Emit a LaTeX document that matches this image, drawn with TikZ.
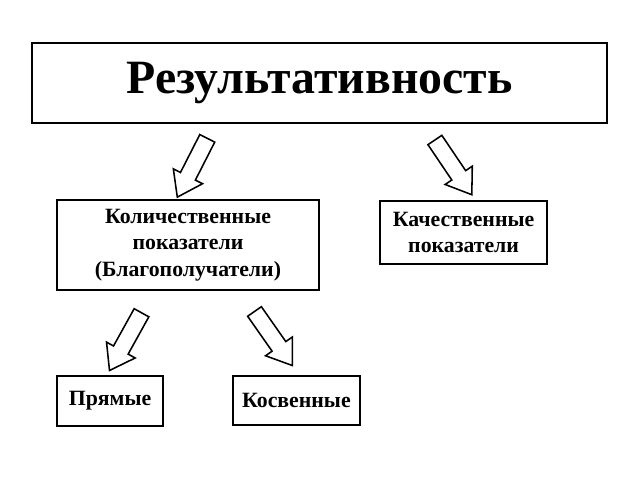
\documentclass[tikz,border=0pt]{standalone}
\usepackage{fontspec}
\setmainfont{Liberation Serif}
\usetikzlibrary{shapes.arrows}
\tikzset{
  box/.style={draw, line width=1.1pt, font=\bfseries\fontsize{15.5}{19}\selectfont, align=center, inner sep=0pt},
  barrow/.style={draw, line width=1.1pt, single arrow, inner sep=0.19cm, minimum width=0.8cm,
    single arrow head extend=0.2cm, single arrow tip angle=70, minimum height=1.65cm}
}
\begin{document}
\begin{tikzpicture}
  \useasboundingbox (0,0) rectangle (16,12);
  % boxes
  \node[box, minimum width=14.375cm, minimum height=2cm, font=\bfseries\fontsize{34}{38}\selectfont] (res) at (7.99,9.925) {Результативность};
  \node[box, minimum width=6.55cm, minimum height=2.25cm] (kol) at (4.7,5.875) {Количественные\\показатели\\(Благополучатели)};
  \node[box, minimum width=4.175cm, minimum height=1.575cm] (kach) at (11.59,6.19) {Качественные\\показатели};
  \node[box, minimum width=2.65cm, minimum height=1.25cm] (pr) at (2.75,1.975) {Прямые};
  \node[box, minimum width=3.175cm, minimum height=1.225cm] (kos) at (7.41,1.99) {Косвенные};
  % arrows
  \node[barrow, rotate=-117] (a1) at (4.875,7.94) {};
  \node[barrow, rotate=-56] (a2) at (11.25,7.94) {};
  \node[barrow, rotate=-119] (a3) at (3.21,3.59) {};
  \node[barrow, rotate=-55] (a4) at (6.75,3.66) {};
\end{tikzpicture}
\end{document}
